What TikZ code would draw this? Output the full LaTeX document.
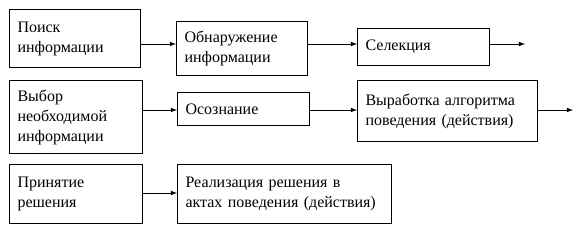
\documentclass[tikz,border=0pt]{standalone}
\usepackage{fontspec}
\setmainfont{Liberation Serif}
\usetikzlibrary{arrows}

\begin{document}
\begin{tikzpicture}[
  x=0.75pt, y=-0.75pt,
  blk/.style={rectangle, draw, line width=0.8pt, anchor=north west,
              align=left, inner xsep=6pt, font=\fontsize{12}{15}\selectfont},
  arr/.style={-latex, line width=0.6pt},
]
\useasboundingbox (0,0) rectangle (582,234);

% row coordinates for the arrows
\coordinate (r1) at (0,44);
\coordinate (r2) at (0,110);
\coordinate (r3) at (0,193);
\coordinate (e1) at (525,44);
\coordinate (e2) at (573,110);

\node[blk, text width=86.25pt, minimum height=43.5pt] (search) at (9,9) {Поиск\\информации};
\node[blk, text width=86.25pt, minimum height=40.5pt] (detect) at (176,21) {Обнаружение\\информации};
\node[blk, text width=87pt, minimum height=27.75pt] (select) at (357,28) {Селекция};

\node[blk, text width=87.75pt, minimum height=54.75pt] (choose) at (9,80) {Выбор\\необходимой\\информации};
\node[blk, text width=87pt, minimum height=24.75pt] (aware) at (177,92) {Осознание};
\node[blk, text width=123pt, minimum height=45.75pt] (algo) at (357,80) {Выработка алгоритма\\поведения (действия)};

\node[blk, text width=87.75pt, minimum height=44.25pt] (accept) at (9,164) {Принятие\\решения};
\node[blk, text width=148.5pt, minimum height=44.25pt] (act) at (177,164) {Реализация решения в\\актах поведения (действия)};

\draw[arr] (search.east |- r1) -- (detect.west |- r1);
\draw[arr] (detect.east |- r1) -- (select.west |- r1);
\draw[arr] (select.east |- e1) -- (e1);

\draw[arr] (choose.east |- r2) -- (aware.west |- r2);
\draw[arr] (aware.east |- r2) -- (algo.west |- r2);
\draw[arr] (algo.east |- e2) -- (e2);

\draw[arr] (accept.east |- r3) -- (act.west |- r3);

\end{tikzpicture}
\end{document}
